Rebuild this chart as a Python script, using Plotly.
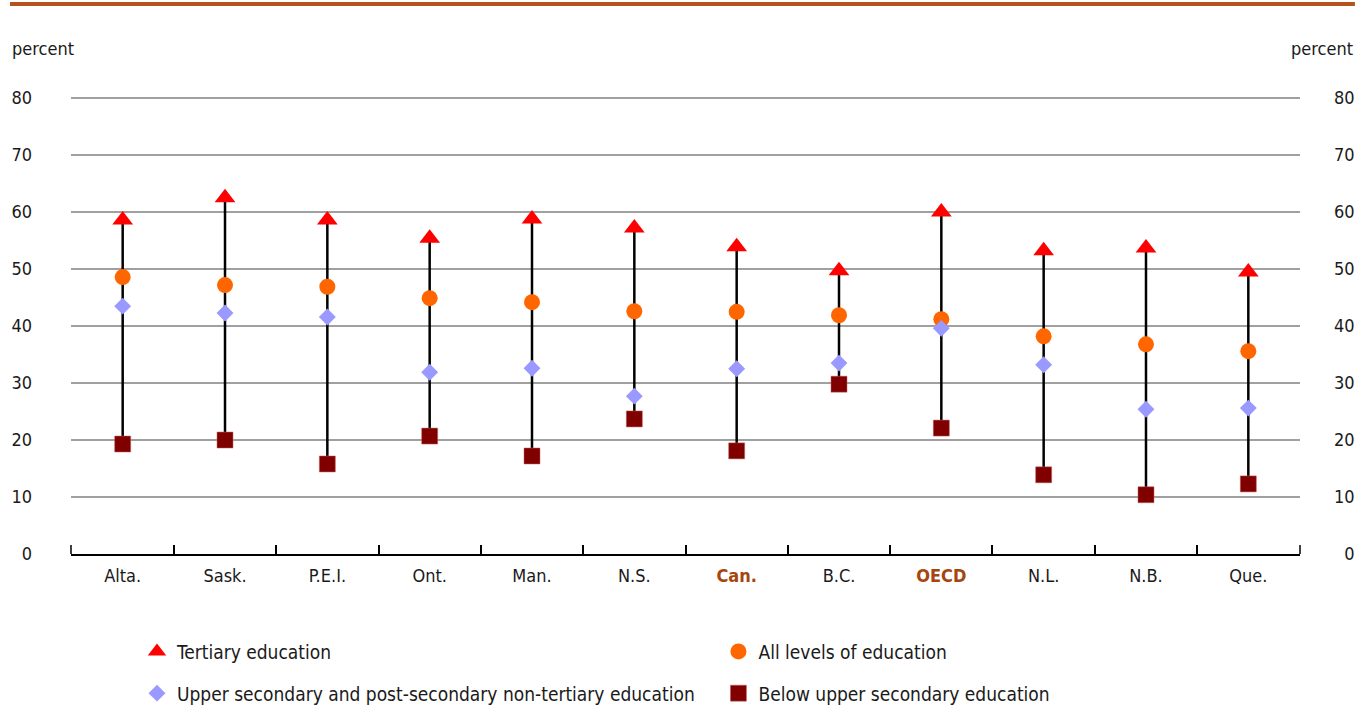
import plotly.graph_objects as go

# data (percent)
regions = ["Alta.", "Sask.", "P.E.I.", "Ont.", "Man.", "N.S.", "Can.", "B.C.", "OECD", "N.L.", "N.B.", "Que."]
tertiary = [58.6, 62.5, 58.6, 55.4, 58.8, 57.2, 53.9, 49.7, 60.0, 53.2, 53.7, 49.5]
all_levels = [48.6, 47.2, 46.9, 44.9, 44.2, 42.6, 42.5, 41.9, 41.2, 38.2, 36.8, 35.6]
upper_secondary = [43.5, 42.3, 41.6, 31.9, 32.6, 27.7, 32.5, 33.5, 39.6, 33.2, 25.4, 25.6]
below_upper = [19.3, 20.0, 15.8, 20.7, 17.2, 23.7, 18.1, 29.8, 22.1, 13.9, 10.4, 12.3]
highlight = ["Can.", "OECD"]
y_ticks = [0, 10, 20, 30, 40, 50, 60, 70, 80]

FONT = "Liberation Sans Narrow, Arial Narrow, DejaVu Sans Condensed, Roboto, sans-serif"
BROWN = "rgb(165, 70, 15)"
TEXT = "#1a1a1a"

# vertical range lines, low to high per region
line_x, line_y = [], []
for i, r in enumerate(regions):
  vals = [tertiary[i], all_levels[i], upper_secondary[i], below_upper[i]]
  line_x += [r, r, None]
  line_y += [min(vals), max(vals), None]

ticktext = []
for r in regions:
  if r in highlight:
    ticktext.append("<b><span style='color:%s'>%s</span></b>" % (BROWN, r))
  else:
    ticktext.append(r)

# right axis labels are right aligned in the original: pad single digits with a figure space
right_ticktext = [("\u2007" + str(v)) if v < 10 else str(v) for v in y_ticks]

fig = go.Figure()

fig.add_trace(go.Scatter(
  x=line_x, y=line_y, mode="lines",
  line=dict(color="black", width=2.5),
  showlegend=False, hoverinfo="skip"))

fig.add_trace(go.Scatter(
  x=regions, y=tertiary, mode="markers", name="Tertiary education",
  marker=dict(symbol="triangle-up", color="#FF0000", size=18, line=dict(width=0)),
  legend="legend", legendgroup="g1"))

fig.add_trace(go.Scatter(
  x=regions, y=all_levels, mode="markers", name="All levels of education",
  marker=dict(symbol="circle", color="#FF6600", size=16, line=dict(width=0)),
  legend="legend2", legendgroup="g2"))

fig.add_trace(go.Scatter(
  x=regions, y=upper_secondary, mode="markers",
  name="Upper secondary and post-secondary non-tertiary education",
  marker=dict(symbol="diamond", color="#9999FF", size=13, line=dict(width=0)),
  legend="legend", legendgroup="g3"))

fig.add_trace(go.Scatter(
  x=regions, y=below_upper, mode="markers", name="Below upper secondary education",
  marker=dict(symbol="square", color="#800000", size=16, line=dict(width=0.5, color="#c06060")),
  legend="legend2", legendgroup="g4"))

# dummy trace so the right axis is drawn
fig.add_trace(go.Scatter(x=[regions[0]], y=[None], yaxis="y2", showlegend=False, hoverinfo="skip"))

legend_style = dict(
  orientation="v", traceorder="grouped", tracegroupgap=14,
  font=dict(family=FONT, size=19, color=TEXT),
  bgcolor="rgba(0,0,0,0)", xanchor="left", yanchor="top", itemwidth=30)

# end ticks of the category axis (plotly drops the outer boundaries)
end_ticks = [dict(type="line", xref="paper", yref="paper", x0=xe, x1=xe, y0=0, y1=0.0197,
                  line=dict(color="black", width=1.5)) for xe in (0, 1)]

fig.update_layout(
  width=1367, height=707,
  margin=dict(l=71, r=67, t=97, b=153, autoexpand=False),
  paper_bgcolor="white", plot_bgcolor="white",
  font=dict(family=FONT, size=18, color=TEXT),
  xaxis=dict(
    type="category", categoryorder="array", categoryarray=regions,
    tickmode="array", tickvals=regions, ticktext=ticktext,
    tickson="boundaries", ticks="inside", ticklen=9, tickwidth=1.5, tickcolor="black",
    showline=True, linecolor="black", linewidth=2, showgrid=False,
    range=[-0.505, len(regions) - 0.495], automargin=False, ticklabelstandoff=4,
    tickfont=dict(family=FONT, size=18, color=TEXT)),
  yaxis=dict(
    range=[0, 80.2], tickvals=y_ticks, showgrid=True, gridcolor="#a0a0a0", gridwidth=2,
    zeroline=False, showline=False, ticks="", ticklabelstandoff=38, automargin=False,
    tickfont=dict(family=FONT, size=18, color=TEXT)),
  yaxis2=dict(
    range=[0, 80.2], tickmode="array", tickvals=y_ticks, ticktext=right_ticktext,
    overlaying="y", side="right", showgrid=False,
    zeroline=False, showline=False, ticks="", ticklabelstandoff=33, automargin=False,
    tickfont=dict(family=FONT, size=18, color=TEXT)),
  legend=dict(legend_style, x=0.0537, y=-0.172),
  legend2=dict(legend_style, x=0.5268, y=-0.172),
  shapes=[dict(type="line", xref="paper", yref="paper",
               x0=-0.0496, x1=1.0447, y0=1.2035, y1=1.2035,
               line=dict(color="rgb(180, 84, 28)", width=4))] + end_ticks,
  annotations=[
    dict(text="percent", xref="paper", yref="paper", x=-0.0496, y=1.107,
         xanchor="left", yanchor="middle", showarrow=False,
         font=dict(family=FONT, size=18, color=TEXT)),
    dict(text="percent", xref="paper", yref="paper", x=1.0447, y=1.107,
         xanchor="right", yanchor="middle", showarrow=False,
         font=dict(family=FONT, size=18, color=TEXT)),
  ],
)

# drop the default page margin so the figure fills the window exactly
fig.write_html("out.html", config={"displayModeBar": False},
               post_script="document.body.style.margin = '0px';")
